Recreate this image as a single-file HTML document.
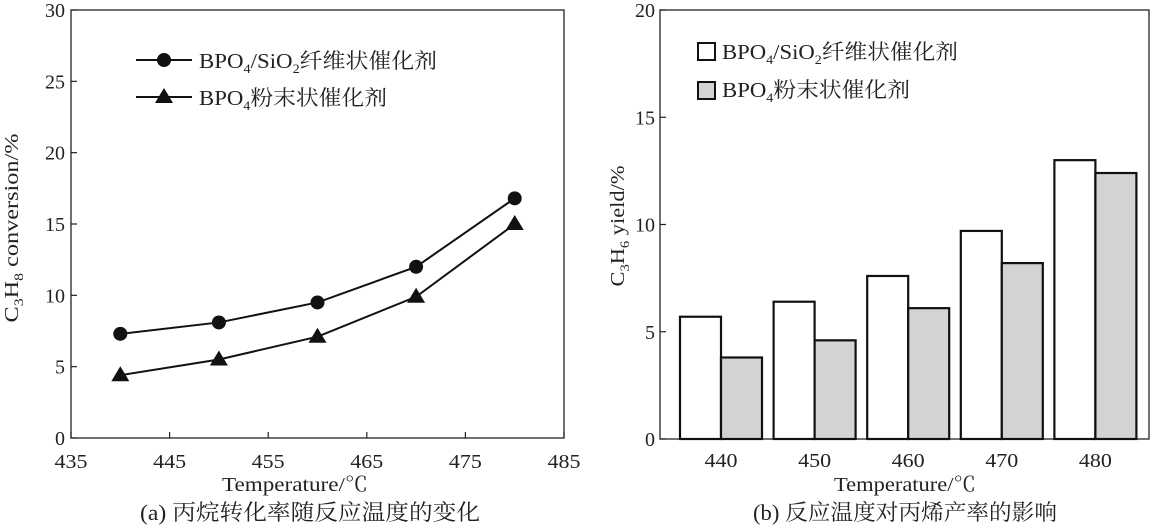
<!DOCTYPE html>
<html><head><meta charset="utf-8"><style>
html,body{margin:0;padding:0;background:#fff;}
svg{display:block;font-family:"Liberation Serif","Noto Serif CJK SC",serif;}
</style></head><body>
<svg id="s" width="1151" height="527" viewBox="0 0 1151 527" xmlns="http://www.w3.org/2000/svg">
<g id="left"></g>
<g id="right"></g>
</svg>
<script>
const temps = [440, 450, 460, 470, 480];
const fiberConversion = [7.3, 8.1, 9.5, 12.0, 16.8];
const powderConversion = [4.4, 5.5, 7.1, 9.9, 15.0];
const xTicksLeft = [435, 445, 455, 465, 475, 485];
const yTicksLeft = [0, 5, 10, 15, 20, 25, 30];
const barCategories = ["440", "450", "460", "470", "480"];
const fiberYield = [5.7, 6.4, 7.6, 9.7, 13.0];
const powderYield = [3.8, 4.6, 6.1, 8.2, 12.4];
const yTicksRight = [0, 5, 10, 15, 20];

const NS = "http://www.w3.org/2000/svg";
function mk(parent, tag, attrs, text) {
  const e = document.createElementNS(NS, tag);
  for (const k in attrs) e.setAttribute(k, attrs[k]);
  if (text !== undefined) e.textContent = text;
  parent.appendChild(e);
  return e;
}
const L = document.getElementById('left');
const R = document.getElementById('right');
const FS = 20;

// ---------- left chart ----------
const lx0 = 71, lx1 = 564, ly0 = 438, ly1 = 10;
const xL = v => lx0 + (v - 435) / 50 * (lx1 - lx0);
const yL = v => ly0 - v / 30 * (ly0 - ly1);
let r = mk(L, 'rect', {x: lx0, y: ly1, width: lx1 - lx0, height: ly0 - ly1, fill: 'none', stroke: '#222', 'stroke-width': 1.3});


xTicksLeft.forEach(t => {
  const l = mk(L, 'line', {x1: xL(t), x2: xL(t), y1: ly0, y2: ly0 - 6, stroke: '#222', 'stroke-width': 1.2});
  
  
  const tx = mk(L, 'text', {x: xL(t), y: ly0 + 30, 'text-anchor': 'middle', 'font-size': FS, 'textLength': 33, 'lengthAdjust': 'spacingAndGlyphs', fill: '#222'}, t);
  
  
});
yTicksLeft.forEach(t => {
  const l = mk(L, 'line', {x1: lx0, x2: lx0 + 6, y1: yL(t), y2: yL(t), stroke: '#222', 'stroke-width': 1.2});
  
  
  const tx = mk(L, 'text', {x: lx0 - 6, y: yL(t) + 7, 'text-anchor': 'end', 'font-size': FS, fill: '#222'}, t);
  
  
});
function polyline(vals, name) {
  const p = mk(L, 'polyline', {points: temps.map((t, i) => xL(t) + ',' + yL(vals[i])).join(' '), fill: 'none', stroke: '#111', 'stroke-width': 2});
  
  
}
polyline(fiberConversion, 'fiber-line');
polyline(powderConversion, 'powder-line');
temps.forEach((t, i) => {
  const c = mk(L, 'circle', {cx: xL(t), cy: yL(fiberConversion[i]), r: 7, fill: '#111'});
  
  
  const x = xL(t), y = yL(powderConversion[i]);
  const tr = mk(L, 'polygon', {points: `${x},${y-9} ${x-9},${y+6} ${x+9},${y+6}`, fill: '#111'});
  
  
});
// legend left
let g = mk(L, 'g', {});


mk(g, 'line', {x1: 136, x2: 192, y1: 60, y2: 60, stroke: '#111', 'stroke-width': 2});
mk(g, 'circle', {cx: 164, cy: 60, r: 7, fill: '#111'});
mk(g, 'line', {x1: 136, x2: 192, y1: 97, y2: 97, stroke: '#111', 'stroke-width': 2});
mk(g, 'polygon', {points: '164,88 155,103 173,103', fill: '#111'});
g.insertAdjacentHTML('beforeend', '<text x="199" y="68" font-size="21" textLength="238" lengthAdjust="spacingAndGlyphs" fill="#222">BPO<tspan font-size="13" dy="5">4</tspan><tspan dy="-5">/SiO</tspan><tspan font-size="13" dy="5">2</tspan><tspan dy="-5">纤维状催化剂</tspan></text>');
g.insertAdjacentHTML('beforeend', '<text x="199" y="105" font-size="21" textLength="188" lengthAdjust="spacingAndGlyphs" fill="#222">BPO<tspan font-size="13" dy="5">4</tspan><tspan dy="-5">粉末状催化剂</tspan></text>');
L.insertAdjacentHTML('beforeend', '<text transform="translate(18,228) rotate(-90)" text-anchor="middle" font-size="20" textLength="189" lengthAdjust="spacingAndGlyphs" fill="#222">C<tspan font-size="13" dy="5">3</tspan><tspan dy="-5">H</tspan><tspan font-size="13" dy="5">8</tspan><tspan dy="-5"> conversion/%</tspan></text>');
L.insertAdjacentHTML('beforeend', '<text x="295" y="491" text-anchor="middle" font-size="20" textLength="146" lengthAdjust="spacingAndGlyphs" fill="#222">Temperature/℃</text>');
L.insertAdjacentHTML('beforeend', '<text x="310" y="520" text-anchor="middle" font-size="22" textLength="340" lengthAdjust="spacingAndGlyphs" fill="#222">(a) 丙烷转化率随反应温度的变化</text>');

// ---------- right chart ----------
const rx0 = 660, rx1 = 1149, ry0 = 439, ry1 = 10;
const yR = v => ry0 - v / 20 * (ry0 - ry1);
const xR = i => 721 + i * 93.6;
const bw = 41;
r = mk(R, 'rect', {x: rx0, y: ry1, width: rx1 - rx0, height: ry0 - ry1, fill: 'none', stroke: '#222', 'stroke-width': 1.3});


yTicksRight.forEach(t => {
  const l = mk(R, 'line', {x1: rx0, x2: rx0 + 6, y1: yR(t), y2: yR(t), stroke: '#222', 'stroke-width': 1.2});
  
  
  const tx = mk(R, 'text', {x: rx0 - 5, y: yR(t) + 7, 'text-anchor': 'end', 'font-size': FS, fill: '#222'}, t);
  
  
});
barCategories.forEach((c, i) => {
  const b1 = mk(R, 'rect', {x: xR(i) - bw, y: yR(fiberYield[i]), width: bw, height: ry0 - yR(fiberYield[i]), fill: '#fff', stroke: '#111', 'stroke-width': 2.2});
  
  
  const b2 = mk(R, 'rect', {x: xR(i), y: yR(powderYield[i]), width: bw, height: ry0 - yR(powderYield[i]), fill: '#d3d3d3', stroke: '#111', 'stroke-width': 2.2});
  
  
  const tx = mk(R, 'text', {x: xR(i), y: ry0 + 28, 'text-anchor': 'middle', 'font-size': FS, 'textLength': 33, 'lengthAdjust': 'spacingAndGlyphs', fill: '#222'}, c);
  
  
});
g = mk(R, 'g', {});


mk(g, 'rect', {x: 698, y: 43, width: 17, height: 17, fill: '#fff', stroke: '#111', 'stroke-width': 2});
mk(g, 'rect', {x: 698, y: 82, width: 17, height: 17, fill: '#d3d3d3', stroke: '#111', 'stroke-width': 2});
g.insertAdjacentHTML('beforeend', '<text x="722" y="59" font-size="21" textLength="236" lengthAdjust="spacingAndGlyphs" fill="#222">BPO<tspan font-size="13" dy="5">4</tspan><tspan dy="-5">/SiO</tspan><tspan font-size="13" dy="5">2</tspan><tspan dy="-5">纤维状催化剂</tspan></text>');
g.insertAdjacentHTML('beforeend', '<text x="722" y="97" font-size="21" textLength="188" lengthAdjust="spacingAndGlyphs" fill="#222">BPO<tspan font-size="13" dy="5">4</tspan><tspan dy="-5">粉末状催化剂</tspan></text>');
R.insertAdjacentHTML('beforeend', '<text transform="translate(624,226) rotate(-90)" text-anchor="middle" font-size="20" textLength="121" lengthAdjust="spacingAndGlyphs" fill="#222">C<tspan font-size="13" dy="5">3</tspan><tspan dy="-5">H</tspan><tspan font-size="13" dy="5">6</tspan><tspan dy="-5"> yield/%</tspan></text>');
R.insertAdjacentHTML('beforeend', '<text x="905" y="491" text-anchor="middle" font-size="20" textLength="142" lengthAdjust="spacingAndGlyphs" fill="#222">Temperature/℃</text>');
R.insertAdjacentHTML('beforeend', '<text x="905" y="520" text-anchor="middle" font-size="22" textLength="304" lengthAdjust="spacingAndGlyphs" fill="#222">(b) 反应温度对丙烯产率的影响</text>');
</script>
</body></html>
